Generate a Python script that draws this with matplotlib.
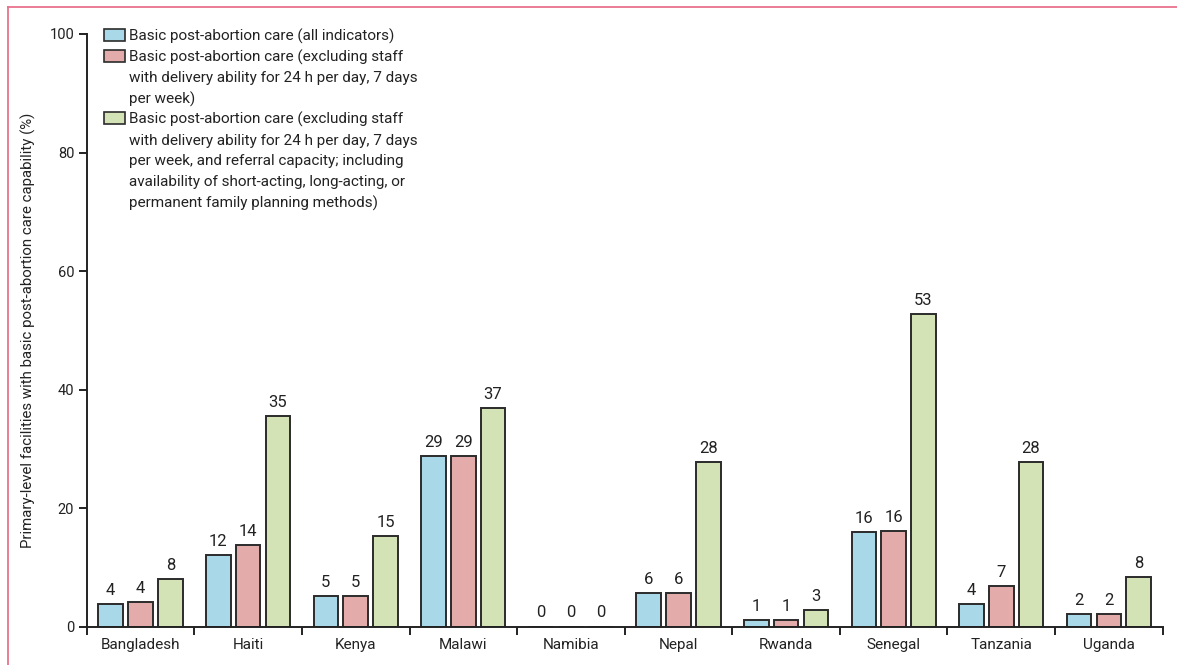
import numpy as np
import matplotlib.pyplot as plt
from matplotlib.lines import Line2D
from matplotlib.patches import Rectangle

plt.rcParams['font.family'] = ['Roboto', 'DejaVu Sans']
tam = 11

paises = ['Bangladesh', 'Haiti', 'Kenya', 'Malawi', 'Namibia', 'Nepal',
          'Rwanda', 'Senegal', 'Tanzania', 'Uganda']

# valores (%)
todos = [3.8, 12.1, 5.2, 28.8, 0, 5.7, 1.1, 16.0, 3.8, 2.1]
sin_parto = [4.1, 13.7, 5.2, 28.8, 0, 5.7, 1.1, 16.1, 6.8, 2.1]
con_planif = [8.0, 35.5, 15.3, 36.9, 0, 27.8, 2.8, 52.7, 27.8, 8.4]

# etiquetas tal como aparecen encima de las barras
et_todos = ['4', '12', '5', '29', '0', '6', '1', '16', '4', '2']
et_sin_parto = ['4', '14', '5', '29', '0', '6', '1', '16', '7', '2']
et_con_planif = ['8', '35', '15', '37', '0', '28', '3', '53', '28', '8']

leyendas = [
    ['Basic post-abortion care (all indicators)'],
    ['Basic post-abortion care (excluding staff',
     'with delivery ability for 24 h per day, 7 days',
     'per week)'],
    ['Basic post-abortion care (excluding staff',
     'with delivery ability for 24 h per day, 7 days',
     'per week, and referral capacity; including',
     'availability of short-acting, long-acting, or',
     'permanent family planning methods)'],
]
colores = ['#a9d9e8', '#e3aba9', '#d3e3b6']
tinta = '#222222'
W, H = 1177, 665


def px(x, y):
    # pixeles de la imagen -> fraccion de la figura
    return x / W, 1 - y / H


fig = plt.figure(figsize=(W / 100, H / 100), dpi=100)
ax = fig.add_axes([0.0737, 0.0576, 0.9141, 0.8913])

x = np.arange(len(paises))
ancho = 0.228
paso = 0.277
series = [todos, sin_parto, con_planif]
etiquetas = [et_todos, et_sin_parto, et_con_planif]
for i, (vals, col, ets) in enumerate(zip(series, colores, etiquetas)):
    barras = ax.bar(x + (i - 1) * paso, vals, ancho, color=col, edgecolor='#2b2b2b',
                    linewidth=1.4)
    ax.bar_label(barras, labels=ets, padding=4.5, fontsize=12, color=tinta)

ax.set_xlim(-0.5, len(paises) - 0.5)
ax.set_ylim(0, 100)
ax.set_yticks([0, 20, 40, 60, 80, 100])
ax.set_xticks(np.arange(-0.5, len(paises)), labels=[])
ax.set_xticks(x, labels=paises, minor=True)
ax.tick_params(axis='x', which='major', length=6, width=1.4, direction='out', color=tinta)
ax.tick_params(axis='x', which='minor', length=0, pad=8, labelsize=tam, labelcolor=tinta)
ax.tick_params(axis='y', length=6, width=1.4, direction='out', pad=3, labelsize=10.5,
               labelcolor=tinta, color=tinta)

for lado in ['top', 'right']:
    ax.spines[lado].set_visible(False)
for lado in ['left', 'bottom']:
    ax.spines[lado].set_linewidth(1.4)
    ax.spines[lado].set_color(tinta)

ax.set_ylabel('Primary-level facilities with basic post-abortion care capability (%)',
              fontsize=10.8, color=tinta)
ax.yaxis.set_label_coords(-0.047, 0.5)

# leyenda a mano: el cuadro va alineado con la primera linea de cada entrada
base = 40.7
interlinea = 20.8
for col, lineas in zip(colores, leyendas):
    x0, y0 = px(104, base)
    x1, y1 = px(125, base - 11.5)
    fig.add_artist(Rectangle((x0, y0), x1 - x0, y1 - y0, transform=fig.transFigure,
                             facecolor=col, edgecolor='#2b2b2b', linewidth=1.2))
    for linea in lineas:
        tx, ty = px(129, base)
        fig.text(tx, ty, linea, fontsize=tam, color=tinta, va='baseline', ha='left')
        base += interlinea

# marco rosa de la figura
rosa = '#e8728c'
fig.add_artist(Line2D([7.5 / W, 1], [1 - 6.5 / H] * 2, color=rosa, lw=1.3,
                      transform=fig.transFigure))
fig.add_artist(Line2D([7.5 / W] * 2, [0, 1 - 6.5 / H], color=rosa, lw=1.3,
                      transform=fig.transFigure))

fig.savefig('out.png', dpi=100)
